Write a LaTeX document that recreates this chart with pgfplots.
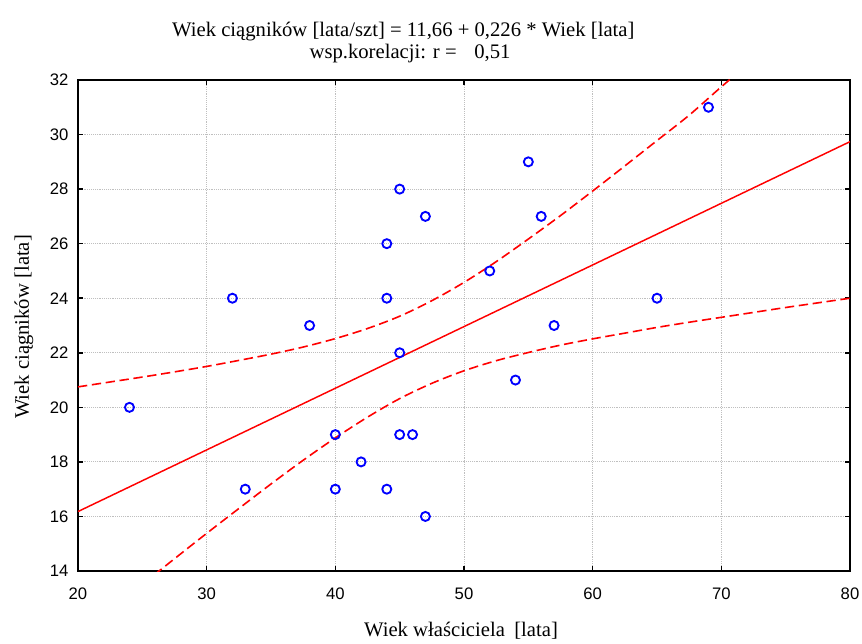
\documentclass[border=0pt]{standalone}
\usepackage{fontspec}
\setmainfont{Liberation Serif}
\newfontfamily\arialfont{Liberation Sans}
\usepackage{pgfplots}
\pgfplotsset{compat=1.18}

% observed points
\pgfplotstableread{
x y
24 20
32 24
33 17
38 23
40 19
40 17
42 18
44 26
44 24
44 17
45 28
45 22
45 19
46 19
47 27
47 16
52 25
54 21
55 29
56 27
57 23
65 24
69 31
}\pts

% 95% band
\pgfplotstableread{
x up lo
20   20.75 11.61
22.5 20.93 12.56
25   21.11 13.51
27.5 21.30 14.45
30   21.50 15.38
32.5 21.72 16.29
35   21.95 17.19
37.5 22.21 18.06
40   22.52 18.88
42.5 22.89 19.64
45   23.34 20.32
47.5 23.91 20.88
50   24.58 21.34
52.5 25.34 21.71
55   26.17 22.01
57.5 27.03 22.28
60   27.93 22.51
62.5 28.85 22.72
65   29.78 22.93
67.5 30.71 23.12
70   31.75 23.30
72.5 32.75 23.48
75   33.70 23.66
77.5 34.60 23.83
80   35.50 24.00
}\band

\begin{document}
\begin{tikzpicture}
\useasboundingbox (-58.5pt,-54pt) rectangle (588pt,428.25pt);
\begin{axis}[
    at={(0,0)}, anchor=south west,
    scale only axis, width=579pt, height=368.25pt,
    xmin=20, xmax=80, ymin=14, ymax=32,
    xtick={20,30,...,80}, ytick={14,16,...,32},
    grid=major,
    grid style={densely dotted, gray!50, line width=0.6pt},
    axis line style={line width=1.5pt},
    tick style={black, line width=1.2pt},
    major tick length=4pt, tick align=inside,
    ticklabel style={font=\arialfont\fontsize{12.5}{14}\selectfont},
    /pgf/number format/assume math mode=true,
    xticklabel style={anchor=base, yshift=-21pt},
    yticklabel style={anchor=east, inner sep=0pt, xshift=-7pt},
]
\addplot[red, line width=1.2pt, dash pattern=on 7pt off 3.5pt, smooth] table[x=x, y=up] {\band};
\addplot[red, line width=1.2pt, dash pattern=on 7pt off 3.5pt, smooth] table[x=x, y=lo] {\band};
\addplot[red, line width=1.1pt] coordinates {(20,16.18) (80,29.74)};
\addplot[only marks, mark=o, mark size=3.4pt, blue, mark options={line width=1.4pt}] table[x=x, y=y] {\pts};
\end{axis}
\begin{scope}[font=\fontsize{15.5}{18}\selectfont]
\node[anchor=base] at (244pt,401pt) {Wiek ciągników [lata/szt] = 11,66 + 0,226 * Wiek [lata]};
\node[anchor=base] at (249pt,384.5pt) {wsp.korelacji: r =\hspace{0.85em}0,51};
\node[anchor=base] at (287.25pt,-48.75pt) {Wiek właściciela\hspace{0.45em}[lata]};
\node[anchor=base, rotate=90] at (-36.75pt,183pt) {Wiek ciągników [lata]};
\end{scope}
\end{tikzpicture}
\end{document}
